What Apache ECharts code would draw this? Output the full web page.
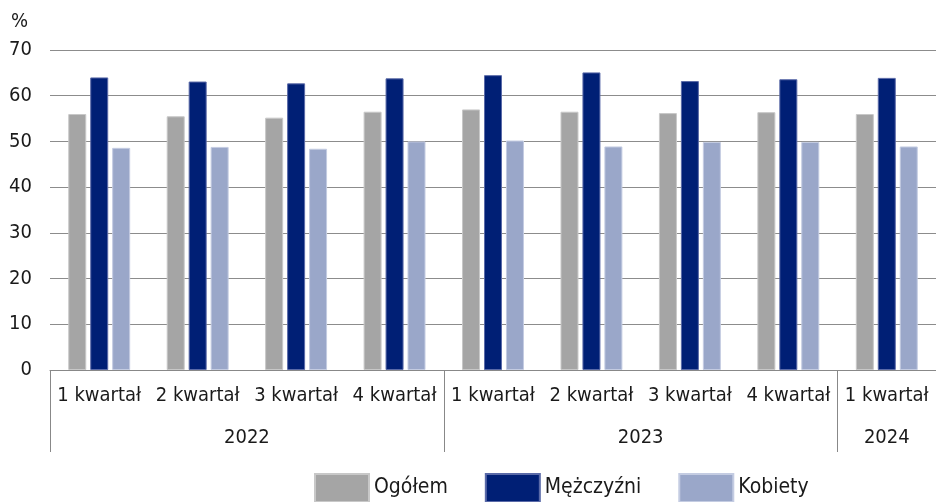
<!DOCTYPE html>
<html>
<head>
<meta charset="utf-8">
<script src="https://cdn.jsdelivr.net/npm/echarts@6/dist/echarts.min.js"></script>
<style>html,body{margin:0;padding:0;background:#fff}#c{width:936px;height:502px}</style>
</head>
<body>
<div id="c"></div>
<script>
const categories = ['1 kwartał','2 kwartał','3 kwartał','4 kwartał','1 kwartał','2 kwartał','3 kwartał','4 kwartał','1 kwartał'];
const years = ['2022','2023','2024'];
const yearCenters = [2, 6, 8.5];
const yearBounds = [0, 4, 8];
const ogolem = [56.0, 55.5, 55.2, 56.5, 57.0, 56.5, 56.2, 56.4, 56.0];
const mezczyzni = [64.0, 63.1, 62.7, 63.8, 64.5, 65.1, 63.2, 63.6, 63.9];
const kobiety = [48.6, 48.8, 48.4, 50.0, 50.2, 48.9, 49.9, 49.9, 48.9];
const yTicks = [0, 10, 20, 30, 40, 50, 60, 70];

const FONT = '"DejaVu Sans Condensed","Liberation Sans Narrow",sans-serif';
const chart = echarts.init(document.getElementById('c'));
const bar = (name, data, color, border) => ({
  name, type: 'bar', data, xAxisIndex: 0,
  barWidth: 18, barGap: '22%',
  itemStyle: { color, borderColor: border, borderWidth: 1 }
});
chart.setOption({
  animation: false,
  textStyle: { fontFamily: FONT, color: '#1a1a1a' },
  grid: { left: 50, right: 0, top: 50, bottom: 132, containLabel: false },
  legend: {
    bottom: -6, left: 309, itemWidth: 54, itemHeight: 28, itemGap: 37,
    textStyle: { fontFamily: FONT, fontSize: 21, color: '#1a1a1a' },
    icon: 'rect'
  },
  xAxis: [
    {
      type: 'category', data: categories, position: 'bottom',
      axisLine: { show: true, lineStyle: { color: '#888', width: 1 } },
      axisTick: { show: false },
      axisLabel: { fontFamily: FONT, fontSize: 20, color: '#1a1a1a', margin: 16, interval: 0 }
    },
    {
      type: 'value', min: 0, max: 9, position: 'bottom',
      axisLine: { show: false },
      splitLine: { show: false },
      axisTick: { show: true, customValues: yearBounds, length: 82, lineStyle: { color: '#888', width: 1 } },
      axisLabel: {
        show: true, customValues: yearCenters, margin: 58,
        fontFamily: FONT, fontSize: 20, color: '#1a1a1a',
        formatter: v => years[yearCenters.indexOf(v)]
      }
    }
  ],
  yAxis: {
    type: 'value', min: 0, max: 70, interval: 10,
    name: '%', nameLocation: 'end', nameGap: 18,
    nameTextStyle: { fontFamily: FONT, fontSize: 20, color: '#1a1a1a', align: 'right', padding: [0, 22, 0, 0] },
    axisLine: { show: false }, axisTick: { show: false },
    axisLabel: { fontFamily: FONT, fontSize: 20, color: '#1a1a1a', margin: 18 },
    splitLine: { lineStyle: { color: '#8c8c8c', width: 1 } }
  },
  series: [
    bar('Ogółem', ogolem, '#a5a5a5', '#c8c8c8'),
    bar('Mężczyźni', mezczyzni, '#001f75', '#5a6aa8'),
    bar('Kobiety', kobiety, '#9aa7c9', '#c4cce2')
  ]
});
</script>
</body>
</html>
